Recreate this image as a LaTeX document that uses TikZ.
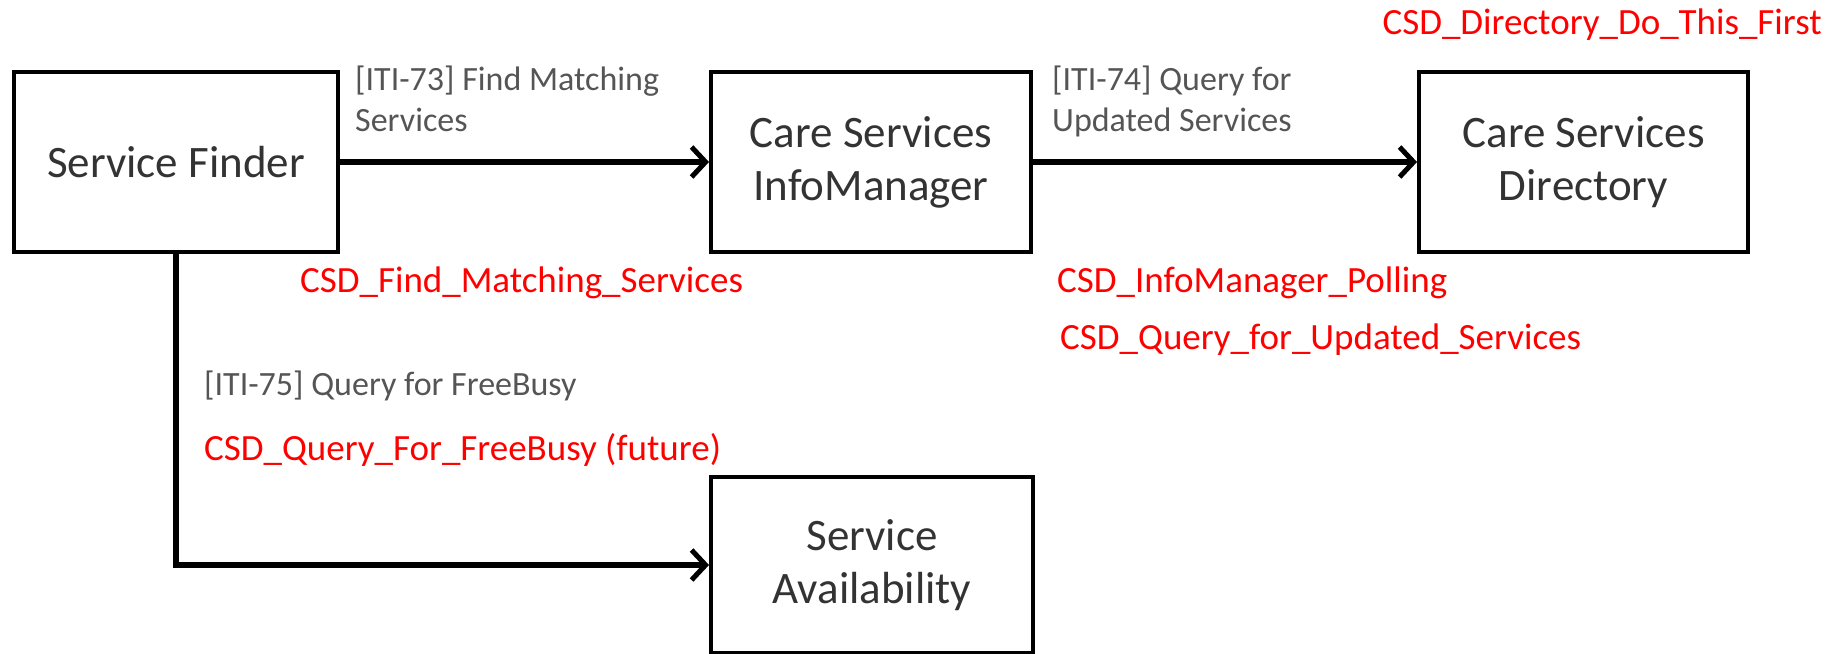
\documentclass[tikz,border=0pt]{standalone}
\usepackage{fontspec}
\setmainfont{Carlito}
\usetikzlibrary{arrows.meta}
\definecolor{boxtext}{HTML}{333333}
\definecolor{labtext}{HTML}{555555}
\definecolor{redtext}{HTML}{FF0000}
\tikzset{
  box/.style={draw=black, line width=4pt, inner sep=0pt, align=center, text=boxtext,
    font=\fontsize{45}{53}\selectfont},
  arr/.style={line width=5.5pt, -{Straight Barb[length=14pt,width=30pt,line width=5pt]}},
  lab/.style={inner sep=0pt, align=left, text=labtext, font=\fontsize{34}{41}\selectfont},
  red/.style={inner sep=0pt, text=redtext, font=\fontsize{37}{44}\selectfont},
}
\begin{document}
\begin{tikzpicture}[x=1pt,y=-1pt]
\useasboundingbox (0,0) rectangle (1827,653);
\node[box, minimum width=324pt, minimum height=180pt] (sf) at (176,162) {Service Finder};
\node[box, minimum width=320pt, minimum height=180pt] (csi) at (871,162) {Care Services\\InfoManager};
\node[box, minimum width=329pt, minimum height=180pt] (csd) at (1583.5,162) {Care Services\\Directory};
\node[box, minimum width=322pt, minimum height=176pt] (sa) at (872,565) {Service\\Availability};
\draw[arr] (sf.east) -- (csi.west);
\draw[arr] (csi.east) -- (csd.west);
\draw[arr] (sf.south) |- (sa.west);
\node[lab, anchor=north west] (l73) at (355,66) {[ITI-73] Find Matching\\Services};
\node[lab, anchor=north west] (l74) at (1052,66) {[ITI-74] Query for\\Updated Services};
\node[lab, anchor=west] (l75) at (204,386) {[ITI-75] Query for FreeBusy};
\node[red, anchor=east] (r0) at (1822,25) {CSD\_Directory\_Do\_This\_First};
\node[red, anchor=west] (r1) at (300,283) {CSD\_Find\_Matching\_Services};
\node[red, anchor=west] (r2) at (1057,283) {CSD\_InfoManager\_Polling};
\node[red, anchor=west] (r3) at (1060,340) {CSD\_Query\_for\_Updated\_Services};
\node[red, anchor=west] (r4) at (204,450) {CSD\_Query\_For\_FreeBusy (future)};
\end{tikzpicture}
\end{document}
